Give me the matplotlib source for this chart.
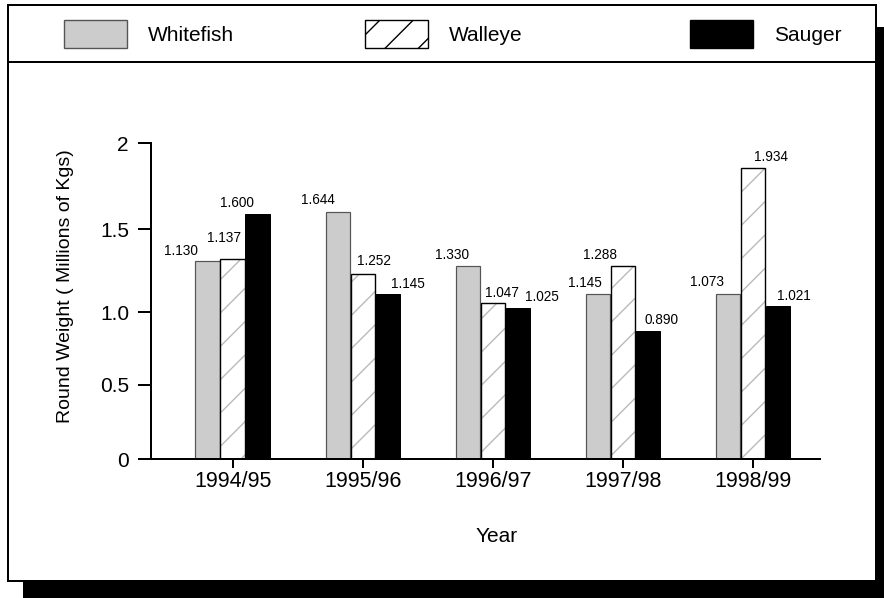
import numpy as np
import matplotlib
matplotlib.use("Agg")
import matplotlib.pyplot as plt
import matplotlib.patches as mpatches
from matplotlib.lines import Line2D

plt.rcParams['font.family'] = ['Liberation Sans', 'DejaVu Sans']
plt.rcParams['hatch.linewidth'] = 1.0

years = ["1994/95", "1995/96", "1996/97", "1997/98", "1998/99"]
series = ["Whitefish", "Walleye", "Sauger"]

# bar heights as drawn (read against the axis ticks)
whitefish = [1.309, 1.602, 1.281, 1.108, 1.108]
walleye = [1.319, 1.231, 1.054, 1.277, 1.858]
sauger = [1.587, 1.108, 1.028, 0.871, 1.036]

# printed value labels
whitefish_lbl = ["1.130", "1.644", "1.330", "1.145", "1.073"]
walleye_lbl = ["1.137", "1.252", "1.047", "1.288", "1.934"]
sauger_lbl = ["1.600", "1.145", "1.025", "0.890", "1.021"]

yticks = [0, 0.5, 1.0, 1.5, 2]
ytick_lbl = ["0", "0.5", "1.0", "1.5", "2"]

# label offsets from bar top (pixels), layout only
lbl_dx = [[-27, -20, -16, -13, -21],
          [-8.5, 11.5, 9, -23, 18],
          [-21, 20, 24, 14, 16]]
lbl_dy = [[10.5, 11.7, 10.7, 11.3, 12.3],
          [21, 12.5, 10.3, 11.3, 10.7],
          [11.5, 10.3, 10.7, 11, 10.3]]

# the printed axis is not evenly spaced; piecewise scale (tick -> pixel)
sc_vals = [-1, 0, 0.5, 1.0, 1.5, 2, 3]
sc_pix = [-148.6, 0, 74.3, 147, 230, 316, 488]


def fwd(v):
    return np.interp(v, sc_vals, sc_pix)


def inv(p):
    return np.interp(p, sc_pix, sc_vals)


W, H = 884, 598
PT = 0.72  # points per pixel at dpi 100


def fx(x):
    return x / W


def fy(y):
    return 1 - y / H


fig = plt.figure(figsize=(W / 100, H / 100), dpi=100)

# shadow and frame
fig.patches.append(mpatches.Rectangle((fx(23), fy(620)), (900 - 23) / W, (620 - 27) / H,
                                      transform=fig.transFigure, facecolor="black",
                                      edgecolor="none", zorder=-3))
fig.patches.append(mpatches.Rectangle((fx(8), fy(581)), (876 - 8) / W, (581 - 5) / H,
                                      transform=fig.transFigure, facecolor="white",
                                      edgecolor="black", linewidth=2 * PT, zorder=-2))
fig.lines.append(Line2D([fx(8), fx(876)], [fy(62), fy(62)], transform=fig.transFigure,
                        color="black", linewidth=2 * PT, zorder=-1))

ax = fig.add_axes([fx(151), fy(459.3), (820 - 151) / W, (459.3 - 143.3) / H])
ax.set_facecolor("none")
ax.set_yscale("function", functions=(fwd, inv))

x = np.arange(len(years))
bw = 0.19
off = [-0.192, 0, 0.192]

ax.bar(x + off[0], whitefish, bw, color="#cccccc", edgecolor="#555555", linewidth=1.2 * PT)
ax.bar(x + off[1], walleye, bw, color="white", edgecolor="#bbbbbb", hatch="/", linewidth=0)
ax.bar(x + off[1], walleye, bw, fill=False, edgecolor="black", linewidth=1.4 * PT)
ax.bar(x + off[2], sauger, bw, color="black", edgecolor="black", linewidth=1 * PT)

vals = [whitefish, walleye, sauger]
lbls = [whitefish_lbl, walleye_lbl, sauger_lbl]
for s in range(3):
    for i in range(len(years)):
        ax.annotate(lbls[s][i], (x[i] + off[s], vals[s][i]),
                    xytext=(lbl_dx[s][i] * PT, lbl_dy[s][i] * PT), textcoords="offset points",
                    ha="center", va="center", fontsize=9.8)

ax.set_xlim(-0.629, 4.515)
ax.set_ylim(0, 2)
ax.set_yticks(yticks)
ax.set_yticklabels(ytick_lbl)
ax.set_xticks(x)
ax.set_xticklabels(years)
ax.minorticks_off()

for side in ["top", "right"]:
    ax.spines[side].set_visible(False)
for side in ["left", "bottom"]:
    ax.spines[side].set_linewidth(2 * PT)
ax.tick_params(axis="y", length=13 * PT, width=2 * PT, pad=9 * PT, labelsize=15)
ax.tick_params(axis="x", length=9 * PT, width=2 * PT, pad=3 * PT, labelsize=15.5)

fig.text(fx(66), fy(286), "Round Weight ( Millions of Kgs)", rotation=90,
         ha="center", va="center", fontsize=14)
fig.text(fx(497), fy(536), "Year", ha="center", va="center", fontsize=15)

# legend row
handles = [mpatches.Patch(facecolor="#cccccc", edgecolor="#555555", linewidth=1.0),
           mpatches.Patch(facecolor="white", edgecolor="black", hatch="/", linewidth=1.0),
           mpatches.Patch(facecolor="black", edgecolor="black", linewidth=1.0)]
leg_x = [64, 365, 690]
fs = 15
fs_px = fs / PT
for h, name, lx in zip(handles, series, leg_x):
    leg = fig.legend(handles=[h], labels=[name], loc="center left",
                     bbox_to_anchor=(fx(lx), fy(34)), frameon=False, fontsize=fs,
                     handlelength=63 / fs_px, handleheight=34 / fs_px,
                     handletextpad=21 / fs_px, borderpad=0, borderaxespad=0)

fig.savefig("out.png", dpi=100)
